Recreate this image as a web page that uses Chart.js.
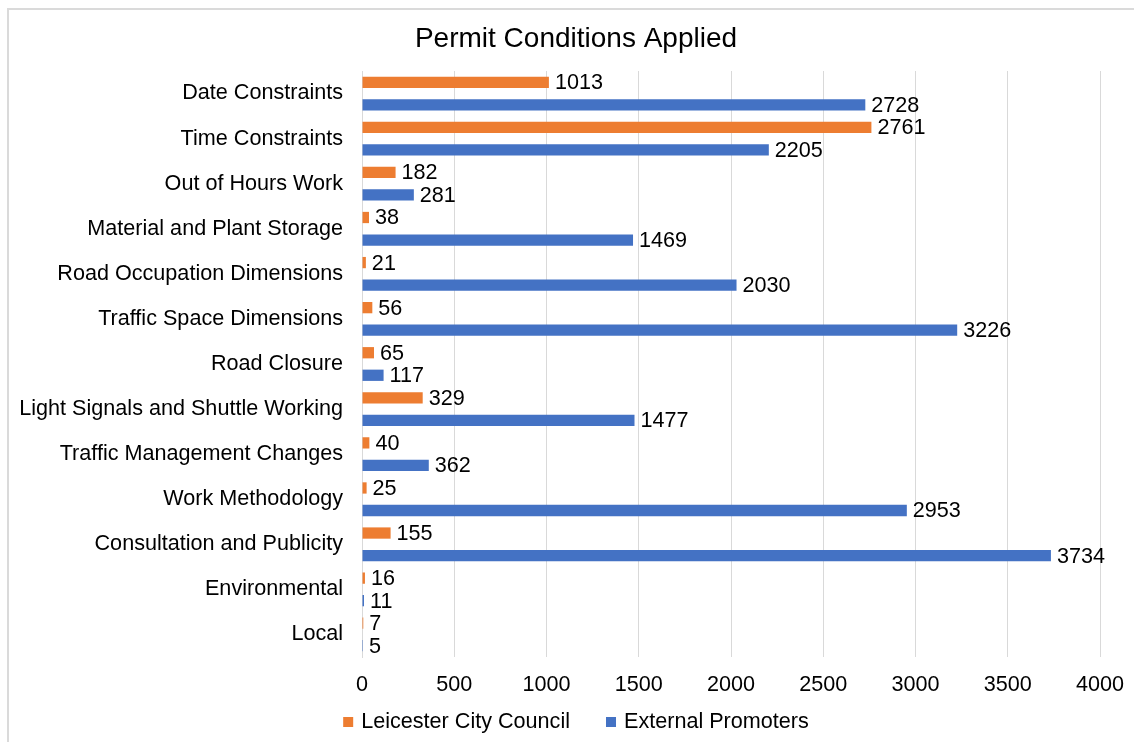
<!DOCTYPE html>
<html>
<head>
<meta charset="utf-8">
<script src="https://cdn.jsdelivr.net/npm/chart.js@4.4.1/dist/chart.umd.min.js"></script>
<style>
  html, body { margin: 0; padding: 0; background: #fff; }
  #wrap { position: relative; width: 1134px; height: 742px; overflow: hidden; }
  #frame { position: absolute; left: 7px; top: 8px; width: 1200px; height: 800px;
           border-left: 2px solid #dadada; border-top: 2px solid #dadada; box-sizing: border-box; }
  canvas { position: absolute; left: 0; top: 0; }
</style>
</head>
<body>
<div id="wrap">
  <div id="frame"></div>
  <canvas id="c" width="1134" height="742"></canvas>
</div>
<script>
const categories = [
  "Date Constraints",
  "Time Constraints",
  "Out of Hours Work",
  "Material and Plant Storage",
  "Road Occupation Dimensions",
  "Traffic Space Dimensions",
  "Road Closure",
  "Light Signals and Shuttle Working",
  "Traffic Management Changes",
  "Work Methodology",
  "Consultation and Publicity",
  "Environmental",
  "Local"
];
const leicesterCityCouncil = [1013, 2761, 182, 38, 21, 56, 65, 329, 40, 25, 155, 16, 7];
const externalPromoters   = [2728, 2205, 281, 1469, 2030, 3226, 117, 1477, 362, 2953, 3734, 11, 5];
const seriesNames = ["Leicester City Council", "External Promoters"];
const xTicks = [0, 500, 1000, 1500, 2000, 2500, 3000, 3500, 4000];
const chartTitle = "Permit Conditions Applied";

const FONT = "'Liberation Sans', Arial, sans-serif";
const TEXT_SIZE = 21.6;

const valueLabels = {
  id: 'valueLabels',
  afterDatasetsDraw(chart) {
    const ctx = chart.ctx;
    ctx.save();
    ctx.font = TEXT_SIZE + "px " + FONT;
    ctx.fillStyle = "#000";
    ctx.textAlign = "left";
    ctx.textBaseline = "middle";
    chart.data.datasets.forEach((ds, di) => {
      const meta = chart.getDatasetMeta(di);
      meta.data.forEach((el, i) => {
        ctx.fillText(String(ds.data[i]), el.x + 6, el.y + 1);
      });
    });
    ctx.restore();
  }
};

// Title and legend drawn manually so their placement can match the reference
const titleAndLegend = {
  id: 'titleAndLegend',
  afterDraw(chart, args, opts) {
    const ctx = chart.ctx;
    ctx.save();
    ctx.font = opts.titleSize + "px " + FONT;
    ctx.fillStyle = "#000";
    ctx.textAlign = "center";
    ctx.textBaseline = "middle";
    ctx.fillText(opts.title, opts.centerX, opts.titleY);
    ctx.font = TEXT_SIZE + "px " + FONT;
    ctx.textAlign = "left";
    const box = opts.box, gap = opts.gap, itemGap = opts.itemGap;
    const items = chart.data.datasets.map(ds => ({
      text: ds.label, color: ds.backgroundColor, w: ctx.measureText(ds.label).width
    }));
    let total = 0;
    items.forEach((it, i) => { total += box + gap + it.w + (i < items.length - 1 ? itemGap : 0); });
    let x = opts.centerX - total / 2;
    const y = opts.legendY;
    items.forEach(it => {
      ctx.fillStyle = it.color;
      ctx.fillRect(x, y - box / 2 + 1, box, box);
      x += box + gap;
      ctx.fillStyle = "#000";
      ctx.fillText(it.text, x, y + 1);
      x += it.w + itemGap;
    });
    ctx.restore();
  }
};

new Chart(document.getElementById('c'), {
  type: 'bar',
  data: {
    labels: categories,
    datasets: [
      { label: seriesNames[0], data: leicesterCityCouncil, backgroundColor: '#ED7D31',
        categoryPercentage: 1.0, barPercentage: 0.5 },
      { label: seriesNames[1], data: externalPromoters, backgroundColor: '#4472C4',
        categoryPercentage: 1.0, barPercentage: 0.5 }
    ]
  },
  options: {
    indexAxis: 'y',
    responsive: false,
    animation: false,
    layout: { padding: { left: 0, right: 34, top: 71, bottom: 31 } },
    plugins: {
      title: { display: false },
      legend: { display: false },
      titleAndLegend: { title: chartTitle, titleSize: 28, titleY: 39, centerX: 576,
                        legendY: 721, box: 10, gap: 8, itemGap: 36 },
      tooltip: { enabled: false }
    },
    scales: {
      x: {
        min: 0, max: 4000,
        afterBuildTicks(scale) { scale.ticks = xTicks.map(v => ({ value: v })); },
        afterFit(scale) { scale.height = 54; scale.paddingLeft = 0; scale.paddingRight = 0; },
        grid: { color: '#d9d9d9', drawTicks: false },
        border: { display: false },
        ticks: { color: '#000', font: { family: FONT, size: TEXT_SIZE }, padding: 15,
                 maxRotation: 0, callback: (v) => String(v) }
      },
      y: {
        afterFit(scale) { scale.width = 362; scale.paddingTop = 0; scale.paddingBottom = 0; },
        grid: { display: false, drawTicks: false },
        border: { display: true, color: '#d9d9d9' },
        ticks: { color: '#000', font: { family: FONT, size: TEXT_SIZE }, padding: 19, autoSkip: false }
      }
    }
  },
  plugins: [valueLabels, titleAndLegend]
});
</script>
</body>
</html>
